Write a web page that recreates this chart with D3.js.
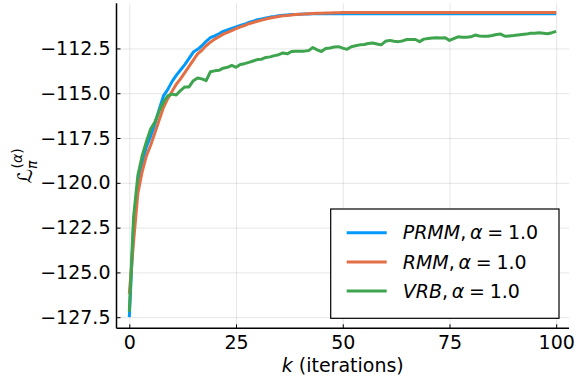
<!DOCTYPE html>
<html>
<head>
<meta charset="utf-8">
<script src="https://cdn.jsdelivr.net/npm/d3@7"></script>
<style>
  body { margin: 0; background: #fff; }
  svg text { font-family: "DejaVu Sans", sans-serif; fill: #000; }
</style>
</head>
<body>
<div id="chart"></div>
<script>
// iterations k = 0..100
var iterations = d3.range(0, 101);

var prmm = [
  -127.5, -122.4, -120.1, -118.9, -118.0, -117.4, -116.7, -115.9, -115.15, -114.8,
  -114.35, -114.0, -113.7, -113.4, -113.05, -112.7, -112.55, -112.35, -112.1, -111.9,
  -111.8, -111.68, -111.55, -111.47, -111.38, -111.3, -111.22, -111.15, -111.05, -110.98,
  -110.9, -110.85, -110.8, -110.75, -110.72, -110.68, -110.65, -110.63, -110.61, -110.6,
  -110.59, -110.58, -110.58, -110.57, -110.57, -110.56, -110.57, -110.56, -110.55, -110.56,
  -110.55, -110.56, -110.55, -110.56, -110.57, -110.56, -110.55, -110.56, -110.56, -110.57,
  -110.56, -110.55, -110.56, -110.57, -110.56, -110.56, -110.55, -110.56, -110.57, -110.56,
  -110.56, -110.55, -110.56, -110.56, -110.57, -110.56, -110.55, -110.56, -110.57, -110.56,
  -110.56, -110.57, -110.56, -110.55, -110.56, -110.57, -110.56, -110.56, -110.55, -110.56,
  -110.57, -110.56, -110.56, -110.57, -110.56, -110.55, -110.56, -110.57, -110.56, -110.56,
  -110.57
];

var rmm = [
  -126.2, -123.3, -120.6, -119.4, -118.5, -117.9, -117.2, -116.5, -115.8, -115.3,
  -114.9, -114.5, -114.2, -113.85, -113.5, -113.15, -112.8, -112.6, -112.35, -112.15,
  -111.98, -111.85, -111.7, -111.6, -111.5, -111.4, -111.3, -111.22, -111.12, -111.05,
  -110.98, -110.92, -110.86, -110.8, -110.76, -110.72, -110.68, -110.66, -110.63, -110.61,
  -110.59, -110.58, -110.56, -110.55, -110.54, -110.53, -110.52, -110.52, -110.51, -110.51,
  -110.5, -110.5, -110.5, -110.49, -110.5, -110.5, -110.49, -110.5, -110.5, -110.5,
  -110.49, -110.5, -110.5, -110.5, -110.49, -110.5, -110.5, -110.49, -110.5, -110.5,
  -110.5, -110.49, -110.5, -110.5, -110.5, -110.49, -110.5, -110.5, -110.5, -110.49,
  -110.5, -110.5, -110.49, -110.5, -110.5, -110.5, -110.49, -110.5, -110.5, -110.5,
  -110.49, -110.5, -110.5, -110.5, -110.49, -110.5, -110.5, -110.5, -110.49, -110.5,
  -110.5
];

var vrb = [
  -127.2, -121.9, -119.6, -118.5, -117.7, -117.0, -116.6, -116.0, -115.5, -115.15,
  -115.05, -115.1, -114.85, -114.65, -114.65, -114.3, -114.15, -114.2, -114.3, -113.8,
  -113.75, -113.72, -113.6, -113.55, -113.45, -113.55, -113.4, -113.35, -113.28, -113.2,
  -113.12, -113.1, -113.0, -112.97, -112.9, -112.85, -112.75, -112.8, -112.67, -112.65,
  -112.66, -112.65, -112.62, -112.45, -112.58, -112.67, -112.5, -112.47, -112.42, -112.4,
  -112.48, -112.55, -112.4, -112.35, -112.3, -112.28, -112.22, -112.2, -112.25, -112.3,
  -112.1, -112.05, -112.1, -112.12, -112.08, -112.0, -112.0, -112.0, -112.12, -111.98,
  -111.95, -111.92, -111.9, -111.92, -111.9, -112.05, -111.95, -111.85, -111.87, -111.88,
  -111.85, -111.75, -111.8, -111.82, -111.82, -111.78, -111.72, -111.7, -111.82, -111.8,
  -111.78, -111.75, -111.72, -111.7, -111.65, -111.65, -111.63, -111.65, -111.68, -111.62,
  -111.55
];

var xTicks = [0, 25, 50, 75, 100];
var yTicks = [-127.5, -125.0, -122.5, -120.0, -117.5, -115.0, -112.5];

var seriesNames = ["PRMM", "RMM", "VRB"];
var seriesColors = ["#009afa", "#e36f47", "#3ea44e"];
var alphaLabel = "1.0";

var width = 576, height = 384;
var plot = {left: 116.5, right: 569, top: 3.3, bottom: 328.3};

var svg = d3.select("#chart").append("svg")
    .attr("width", width)
    .attr("height", height);

var xScale = d3.scaleLinear()
    .domain([-3, 103])
    .range([plot.left, plot.right]);

var yScale = d3.scaleLinear()
    .domain([-128.12, -109.98])
    .range([plot.bottom, plot.top]);

// grid lines
svg.append("g")
    .attr("class", "grid")
    .attr("transform", "translate(0," + plot.bottom + ")")
    .call(d3.axisBottom(xScale).tickValues(xTicks)
        .tickSize(-(plot.bottom - plot.top)).tickFormat(""))
    .call(function(g) { g.select(".domain").remove(); })
    .selectAll("line").attr("stroke", "#000").attr("stroke-opacity", 0.1);

svg.append("g")
    .attr("class", "grid")
    .attr("transform", "translate(" + plot.left + ",0)")
    .call(d3.axisLeft(yScale).tickValues(yTicks)
        .tickSize(-(plot.right - plot.left)).tickFormat(""))
    .call(function(g) { g.select(".domain").remove(); })
    .selectAll("line").attr("stroke", "#000").attr("stroke-opacity", 0.1);

// series
var line = d3.line()
    .x(function(d, i) { return xScale(iterations[i]); })
    .y(function(d) { return yScale(d); });

[prmm, rmm, vrb].forEach(function(s, i) {
  svg.append("path")
      .datum(s)
      .attr("fill", "none")
      .attr("stroke", seriesColors[i])
      .attr("stroke-width", 3)
      .attr("stroke-linejoin", "round")
      .attr("d", line);
});

// axes
var fmtY = function(d) { return d3.format(".1f")(d).replace("-", "\u2212"); };

var xAxis = svg.append("g")
    .attr("transform", "translate(0," + plot.bottom + ")")
    .call(d3.axisBottom(xScale).tickValues(xTicks).tickSize(-4).tickPadding(7));
xAxis.select(".domain").attr("stroke", "#000").attr("stroke-width", 1.5)
    .attr("d", "M" + plot.left + ",0H" + plot.right);
xAxis.selectAll("text").attr("font-size", 19);

var yAxis = svg.append("g")
    .attr("transform", "translate(" + plot.left + ",0)")
    .call(d3.axisLeft(yScale).tickValues(yTicks).tickSize(-4).tickPadding(6).tickFormat(fmtY));
yAxis.select(".domain").attr("stroke", "#000").attr("stroke-width", 1.5)
    .attr("d", "M0," + plot.top + "V" + plot.bottom);
yAxis.selectAll("text").attr("font-size", 19);

// axis labels
var xl = svg.append("text")
    .attr("x", (plot.left + plot.right) / 2)
    .attr("y", 372)
    .attr("text-anchor", "middle")
    .attr("font-size", 19);
xl.append("tspan").attr("font-style", "italic").text("k");
xl.append("tspan").text(" (iterations)");

var yl = svg.append("text")
    .attr("transform", "translate(32," + ((plot.top + plot.bottom) / 2) + ") rotate(-90)")
    .attr("text-anchor", "middle")
    .attr("font-size", 20);
yl.append("tspan").text("\u2112");
yl.append("tspan").attr("font-size", 14).attr("dy", 5).attr("font-style", "italic").text("\u03c0");
yl.append("tspan").attr("font-size", 14).attr("dx", -8).attr("dy", -15).text("(");
yl.append("tspan").attr("font-size", 14).attr("font-style", "italic").text("\u03b1");
yl.append("tspan").attr("font-size", 14).text(")");

// legend
var legend = svg.append("g").attr("transform", "translate(330.7,209)");
legend.append("rect")
    .attr("width", 228.3).attr("height", 109.3)
    .attr("fill", "#fff").attr("stroke", "#000").attr("stroke-width", 1.2);

var items = legend.selectAll(".legend")
    .data(seriesNames)
    .enter().append("g")
    .attr("class", "legend")
    .attr("transform", function(d, i) { return "translate(0," + (23.7 + i * 29.2) + ")"; });

items.append("line")
    .attr("x1", 16).attr("x2", 56)
    .attr("stroke", function(d, i) { return seriesColors[i]; })
    .attr("stroke-width", 3);

var lt = items.append("text")
    .attr("x", 72).attr("dy", "0.35em")
    .attr("font-size", 19);
lt.append("tspan").attr("font-style", "italic").text(function(d) { return d; });
lt.append("tspan").text(",\u2009");
lt.append("tspan").attr("font-style", "italic").text("\u03b1");
lt.append("tspan").text("\u2005=\u2005" + alphaLabel);
</script>
</body>
</html>
